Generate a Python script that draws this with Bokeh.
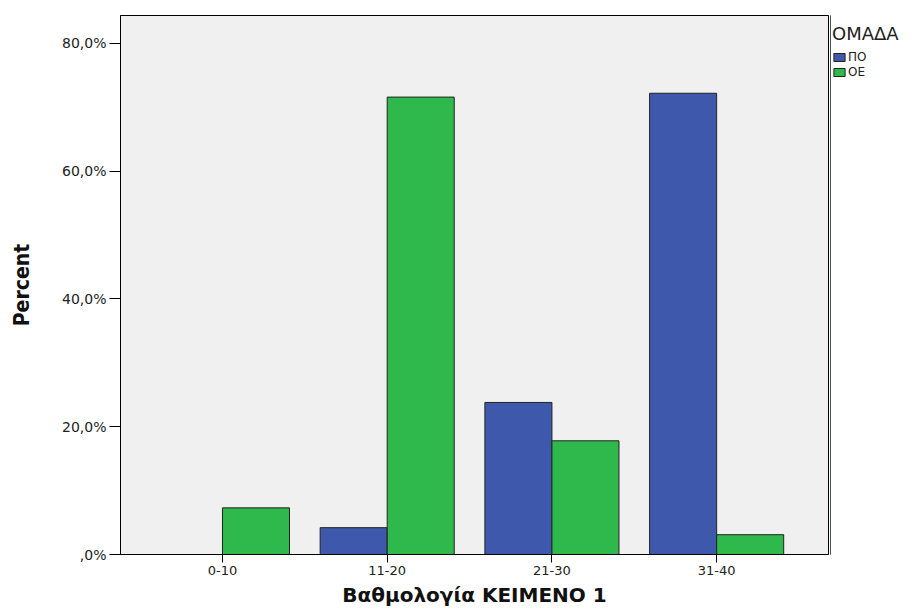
from bokeh.plotting import figure
from bokeh.layouts import row
from bokeh.models import FixedTicker, Legend, LegendItem, Range1d, ColumnDataSource
from bokeh.embed import file_html
from bokeh.resources import INLINE

categories = ["0-10", "11-20", "21-30", "31-40"]
po_values = [0.0, 4.2, 23.8, 72.2]
oe_values = [7.3, 71.6, 17.8, 3.1]
y_ticks = [0, 20, 40, 60, 80]
y_tick_labels = [",0%", "20,0%", "40,0%", "60,0%", "80,0%"]
series_names = ["ΠΟ", "ΟΕ"]
legend_title = "ΟΜΑΔΑ"

BLUE = "#3e58ac"
GREEN = "#2fb84b"
BW = 0.407
H = 609

idx = list(range(len(categories)))
src_po = ColumnDataSource(dict(x=[i - BW / 2 for i in idx], top=po_values))
src_oe = ColumnDataSource(dict(x=[i + BW / 2 for i in idx], top=oe_values))

p = figure(width=830, height=H, output_backend="svg", toolbar_location=None,
           x_range=Range1d(-0.619, 3.679), y_range=Range1d(0, 84.375),
           min_border_left=120, min_border_top=15, min_border_right=2, min_border_bottom=54)

p.background_fill_color = "#f0f0f0"
p.border_fill_color = "white"
p.outline_line_color = "black"
p.outline_line_width = 1
p.xgrid.visible = False
p.ygrid.visible = False

r1 = p.vbar(x="x", top="top", width=BW, bottom=0, source=src_po,
            fill_color=BLUE, line_color="#222222", line_width=1)
r2 = p.vbar(x="x", top="top", width=BW, bottom=0, source=src_oe,
            fill_color=GREEN, line_color="#222222", line_width=1)

p.xaxis.ticker = FixedTicker(ticks=idx)
p.xaxis.major_label_overrides = {i: c for i, c in zip(idx, categories)}
p.yaxis.ticker = FixedTicker(ticks=y_ticks)
p.yaxis.major_label_overrides = {t: l for t, l in zip(y_ticks, y_tick_labels)}

for ax in (p.xaxis[0], p.yaxis[0]):
    ax.axis_line_color = "black"
    ax.major_tick_line_color = "black"
    ax.major_tick_in = 0
    ax.minor_tick_line_color = None
    ax.major_label_text_font = "DejaVu Sans"
    ax.major_label_text_color = "#222222"
    ax.major_label_standoff = 3

p.yaxis.major_label_text_font_size = "14px"
p.xaxis.major_label_text_font_size = "13px"
p.yaxis.major_tick_out = 11
p.xaxis.major_tick_out = 8

p.xaxis.axis_label = "Βαθμολογία ΚΕΙΜΕΝΟ 1"
p.xaxis.axis_label_text_font = "DejaVu Sans"
p.xaxis.axis_label_text_font_style = "bold"
p.xaxis.axis_label_text_font_size = "20px"
p.xaxis.axis_label_text_color = "#111111"
p.xaxis.axis_label_standoff = 5

p.yaxis.axis_label = "Percent"
p.yaxis.axis_label_text_font = "DejaVu Sans Condensed"
p.yaxis.axis_label_text_font_style = "bold"
p.yaxis.axis_label_text_font_size = "21px"
p.yaxis.axis_label_text_color = "#111111"
p.yaxis.axis_label_standoff = 25

# Separate narrow figure holding the legend (outside the plot frame)
lf = figure(width=82, height=H, output_backend="svg", toolbar_location=None,
            x_axis_type=None, y_axis_type=None,
            min_border_left=0, min_border_top=15, min_border_right=0, min_border_bottom=54,
            x_range=Range1d(0, 1), y_range=Range1d(0, 1))
lf.outline_line_color = None
lf.xgrid.visible = False
lf.ygrid.visible = False
lr1 = lf.vbar(x=[-10], top=[1], width=0.1, fill_color=BLUE, line_color="#222222")
lr2 = lf.vbar(x=[-10], top=[1], width=0.1, fill_color=GREEN, line_color="#222222")

legend = Legend(items=[LegendItem(label=series_names[0], renderers=[lr1]),
                       LegendItem(label=series_names[1], renderers=[lr2])],
                location=(2, 475), title=legend_title,
                title_text_font="DejaVu Sans", title_text_font_size="18px",
                title_text_font_style="normal", title_text_color="#222222",
                title_standoff=6,
                label_text_font="DejaVu Sans", label_text_font_size="12px",
                label_text_color="#222222",
                glyph_width=14, glyph_height=10, label_standoff=2,
                spacing=1, padding=0, margin=0,
                background_fill_alpha=0, border_line_color=None,
                label_height=12, label_text_baseline="middle")
lf.add_layout(legend, "center")

layout = row(p, lf, spacing=0)
open("out.html", "w").write(file_html(layout, INLINE))
